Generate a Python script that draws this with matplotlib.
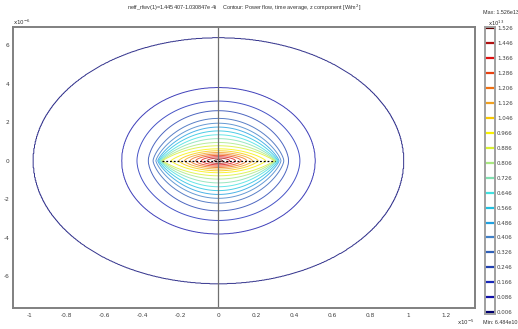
import matplotlib
matplotlib.use("Agg")
import matplotlib.pyplot as plt
import numpy as np

plt.rcParams["axes.unicode_minus"] = False

levels = [0.006, 0.086, 0.166, 0.246, 0.326, 0.406, 0.486, 0.566, 0.646, 0.726,
          0.806, 0.886, 0.966, 1.046, 1.126, 1.206, 1.286, 1.366, 1.446, 1.526]
level_colors = ["#000070", "#1010a8", "#1828b8", "#2040b0", "#3060b8", "#4080c8",
                "#20a0e0", "#20c0e0", "#40e0e0", "#80e0b0", "#a8e880", "#d8f030",
                "#f8f000", "#f8c800", "#f0a020", "#f07010", "#e84010", "#e01010",
                "#b01010", "#600000"]
# where each contour crosses y=0 (x1e-5) and x=0 (x1e-6),
# and how pointed it is at the slot tips (0.5 = ellipse, 1 = lens)
half_width = [0.98, 0.51, 0.43, 0.37, 0.345, 0.33, 0.32, 0.315, 0.31, 0.305,
              0.30, 0.295, 0.25, 0.21, 0.18, 0.15, 0.12, 0.09, 0.06, 0.02]
half_height = [6.4, 3.8, 3.1, 2.6, 2.2, 1.95, 1.75, 1.55, 1.35, 1.15,
               0.95, 0.78, 0.62, 0.52, 0.43, 0.35, 0.28, 0.21, 0.14, 0.05]
tip_shape = [0.5, 0.5, 0.55, 0.6, 0.7, 0.75, 0.8, 0.85, 0.9, 0.9,
             0.9, 0.9, 0.8, 0.75, 0.7, 0.65, 0.6, 0.6, 0.6, 0.6]
slot_half = 0.3
xticks = [-1, -0.8, -0.6, -0.4, -0.2, 0, 0.2, 0.4, 0.6, 0.8, 1, 1.2]
yticks = [-6, -4, -2, 0, 2, 4, 6]

# field whose level sets pass through the read-off crossings
X, Y = np.meshgrid(np.linspace(-1.1, 1.4, 700), np.linspace(-7.8, 7.1, 700))
idx = np.arange(len(levels), dtype=float)


def shape(t):
    a = np.interp(t, idx, half_width)
    b = np.interp(t, idx, half_height)
    k = np.interp(t, idx, tip_shape)
    return (X / a) ** 2 + (np.abs(Y) / b) ** (1 / k)


lo = np.full(X.shape, -1.0)
hi = np.full(X.shape, idx[-1] + 0.5)
for _ in range(30):
    mid = (lo + hi) / 2
    inside = shape(np.clip(mid, 0, idx[-1])) < 1
    lo = np.where(inside, mid, lo)
    hi = np.where(inside, hi, mid)
t = (lo + hi) / 2
F = np.interp(t, idx, levels, left=0.0, right=1.6)
F = np.where(t < 0, levels[0] * (1 + t), F)

fig = plt.figure(figsize=(5.18, 3.29), dpi=100)
ax = fig.add_axes([13 / 518, 1 - 308 / 329, 462 / 518, 281 / 329])
ax.contour(X, Y, F, levels=levels, colors=level_colors, linewidths=0.7, alpha=0.8)
ax.axvline(0, color="#707070", lw=0.9)
ax.plot([-slot_half, slot_half], [0, 0], color="black", lw=0.9, ls=(0, (1.5, 1.5)))

ax.set_xlim(-1.085, 1.355)
ax.set_ylim(-7.65, 6.95)
ax.set_xticks(xticks)
ax.set_xticklabels([f"{v:g}" for v in xticks])
ax.set_yticks(yticks)
ax.tick_params(length=0, labelsize=4.2, colors="#404040")
ax.tick_params(axis="x", pad=3.5)
ax.tick_params(axis="y", pad=2.5)
for s in ax.spines.values():
    s.set_color("#808080")
    s.set_linewidth(1.4)

small = "Liberation Sans"
fig.text(244 / 518, 1 - 8 / 329,
         "neff_rfwv(1)=1.445407-1.030847e-4i    Contour: Power flow, time average, z component [W/m$^2$]",
         ha="center", va="center", fontsize=4.0, color="#303030", family=small)
ax.text(0.0, 1.0, "x10$^{-6}$", transform=ax.transAxes, ha="left", va="bottom", fontsize=4, color="#303030")
fig.text(466 / 518, 1 - 322 / 329, "x10$^{-5}$", ha="center", va="center", fontsize=4, color="#303030")

# legend bar
cax = fig.add_axes([485 / 518, 1 - 314 / 329, 10 / 518, 287 / 329])
cax.set_ylim(-0.004, 1.534)
cax.set_xlim(0, 1)
for lv, c in zip(levels, level_colors):
    cax.axhline(lv, color=c, lw=1.6)
cax.set_xticks([])
cax.yaxis.tick_right()
cax.set_yticks(levels)
cax.set_yticklabels([f"{lv:.3f}" for lv in levels])
cax.tick_params(length=0, labelsize=4, colors="#404040", pad=1.5)
for s in cax.spines.values():
    s.set_color("#a0a0a0")
    s.set_linewidth(1.4)
fig.text(483 / 518, 1 - 13 / 329, "Max: 1.526e13", ha="left", va="center", fontsize=3.9,
         color="#303030", family=small)
fig.text(488 / 518, 1 - 23 / 329, "x10$^{13}$", ha="left", va="center", fontsize=3.8, color="#303030")
fig.text(483 / 518, 1 - 322 / 329, "Min: 6.484e10", ha="left", va="center", fontsize=3.9,
         color="#303030", family=small)

fig.savefig("out.png", dpi=100)
